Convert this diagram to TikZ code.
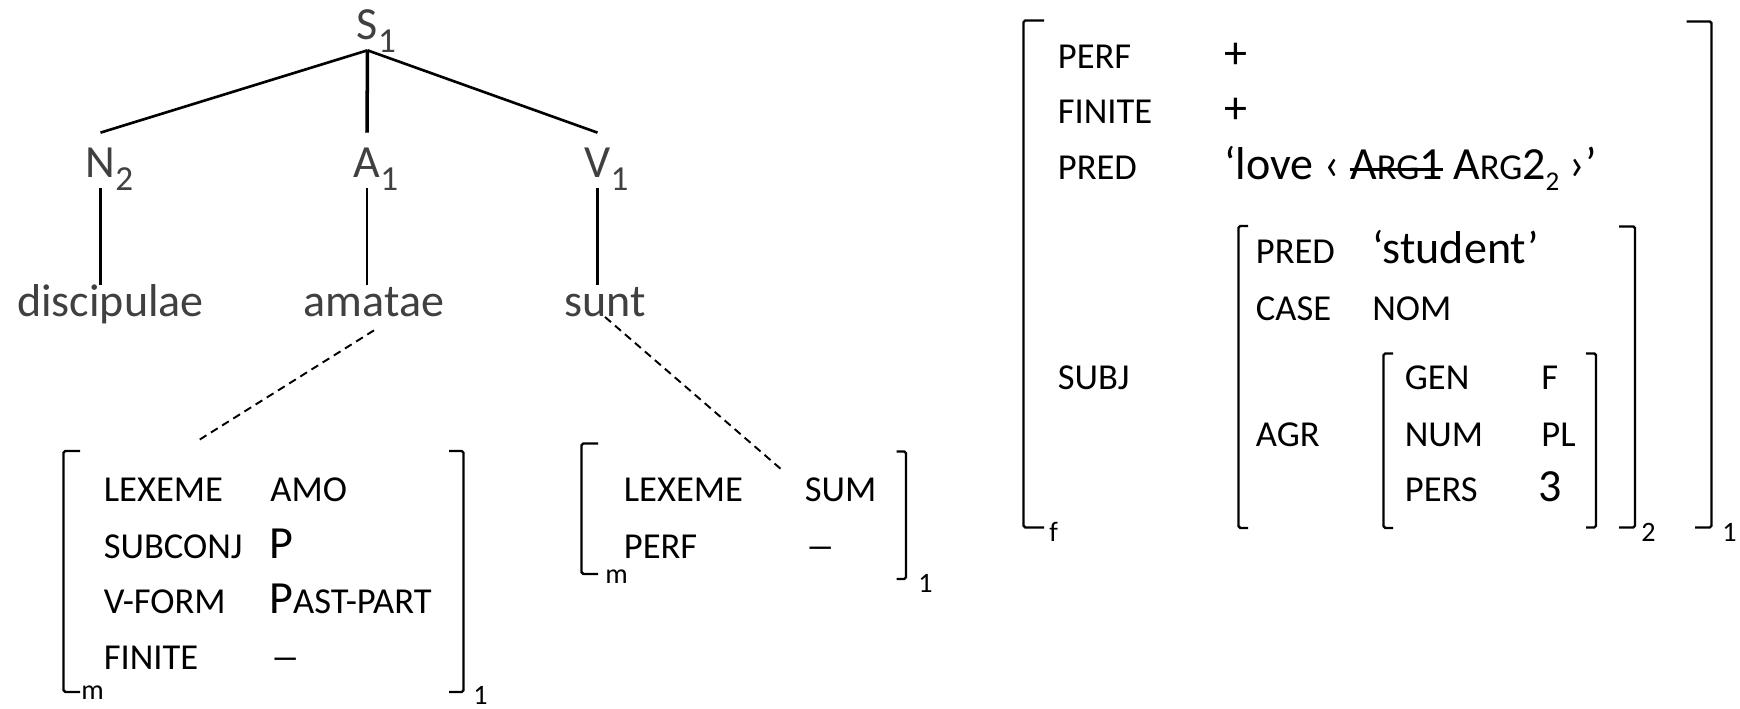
\documentclass[tikz,border=0pt]{standalone}
\usepackage{fontspec}
\setmainfont{Carlito}
\usepackage{tikz}
\usetikzlibrary{positioning}

\definecolor{treegrey}{HTML}{404040}

\newcommand{\bigtxt}{\fontsize{26.2}{30}\selectfont}
\newcommand{\smtxt}{\fontsize{20.8}{24}\selectfont}
\newcommand{\catidx}[1]{\raisebox{-7pt}{\fontsize{20}{20}\selectfont #1}}
\newcommand{\argidx}[1]{\raisebox{-6pt}{\fontsize{15.4}{16}\selectfont #1}}
\newcommand{\minus}{\scalebox{1.3}[0.8]{–}}
% struck-out argument
\newsavebox{\struckbox}
\newcommand{\struck}[1]{\sbox{\struckbox}{#1}%
  \rlap{\rule[5.2pt]{\wd\struckbox}{1.4pt}}\usebox{\struckbox}}

\tikzset{
  cat/.style={inner sep=0pt, text=treegrey, font=\bigtxt, text height=0.9cm, text depth=0.2cm, anchor=base},
  word/.style={inner sep=0pt, text=treegrey, font=\bigtxt, text height=0.64cm, text depth=0.26cm, anchor=base},
  feat/.style={inner sep=0pt, font=\smtxt, anchor=base west},
  val/.style={inner sep=0pt, font=\bigtxt, anchor=base west},
  tag/.style={inner sep=0pt, font=\fontsize{16}{18}\selectfont, anchor=base west},
  brk/.style={line width=1.4pt, rounded corners=1pt},
  branch/.style={line width=1.5pt},
  link/.style={line width=1.1pt, dash pattern=on 4.5pt off 3pt}
}

\begin{document}
\begin{tikzpicture}
  \useasboundingbox (0,0) rectangle (34.8,14.18);

  % c-structure
  \node[cat] (s1) at (7.35,13.38) {S\rlap{\catidx{1}}};
  \node[cat] (n2) at (2.01,10.62) {N\rlap{\catidx{2}}};
  \node[cat] (a1) at (7.34,10.62) {A\rlap{\catidx{1}}};
  \node[cat] (v1) at (11.95,10.62) {V\rlap{\catidx{1}}};

  \node[word] (discipulae) at (2.21,7.84) {discipulae};
  \node[word] (amatae) at (7.48,7.84) {amatae};
  \node[word] (sunt) at (12.10,7.84) {sunt};

  \draw[branch] (s1.south) -- (n2.north);
  \draw[branch, line width=2pt] (s1.south) -- (a1.north);
  \draw[branch] (s1.south) -- (v1.north);
  \draw[branch] (n2.south) -- (n2.south |- discipulae.north);
  \draw[branch] (a1.south) -- (a1.south |- amatae.north);
  \draw[branch] (v1.south) -- (v1.south |- sunt.north);

  \coordinate (amo-top) at (3.98,5.38);
  \coordinate (sum-top) at (15.64,4.78);
  \draw[link] (amatae.south) -- (amo-top);
  \draw[link] (sunt.base) -- (sum-top);

  % m-structure of amatae
  \draw[brk] (1.60,5.16) -- (1.27,5.16) -- (1.27,0.34) -- (1.60,0.34);
  \draw[brk] (8.98,5.16) -- (9.27,5.16) -- (9.27,0.34) -- (8.98,0.34);
  \node[feat] (amo-lex) at (2.07,4.146) {LEXEME};
  \node[feat] (amo-lex-v) at (5.40,4.146) {AMO};
  \node[feat] (amo-sub) at (2.07,3.014) {SUBCONJ};
  \node[val] (amo-sub-v) at (5.38,3.014) {P};
  \node[feat] (amo-vf) at (2.07,1.914) {V-FORM};
  \node[feat] (amo-vf-v) at (5.38,1.914) {{\bigtxt P}AST-PART};
  \node[feat] (amo-fin) at (2.07,0.78) {FINITE};
  \node[val] (amo-fin-v) at (5.40,0.78) {\minus};
  \node[tag] (amo-m) at (1.62,0.18) {m};
  \node[tag] (amo-1) at (9.46,0.08) {1};

  % m-structure of sunt
  \draw[brk] (11.96,5.31) -- (11.63,5.31) -- (11.63,2.70) -- (11.96,2.70);
  \draw[brk] (17.93,5.15) -- (18.12,5.15) -- (18.12,2.60) -- (17.93,2.60);
  \node[feat] (sum-lex) at (12.47,4.146) {LEXEME};
  \node[feat] (sum-lex-v) at (16.09,4.146) {SUM};
  \node[feat] (sum-perf) at (12.47,3.014) {PERF};
  \node[val] (sum-perf-v) at (16.10,3.014) {\minus};
  \node[tag] (sum-m) at (12.10,2.50) {m};
  \node[tag] (sum-1) at (18.36,2.32) {1};

  % f-structure
  \draw[brk] (20.88,13.77) -- (20.47,13.77) -- (20.47,3.63) -- (20.88,3.63);
  \draw[brk] (33.73,13.75) -- (34.23,13.75) -- (34.23,3.63) -- (33.90,3.63);
  \node[feat] (f-perf) at (21.15,12.81) {PERF};
  \node[val] (f-perf-v) at (24.48,12.81) {+};
  \node[feat] (f-fin) at (21.15,11.70) {FINITE};
  \node[val] (f-fin-v) at (24.48,11.70) {+};
  \node[feat] (f-pred) at (21.15,10.58) {PRED};
  \node[val] (f-pred-v) at (24.48,10.58)
    {‘love ‹ \struck{A{\smtxt RG}1} A{\smtxt RG}2\argidx{2} ›’};
  \node[feat] (f-subj) at (21.15,6.38) {SUBJ};
  \node[tag] (f-f) at (20.98,3.35) {f};
  \node[tag] (f-1) at (34.44,3.35) {1};

  % SUBJ value
  \draw[brk] (24.96,9.66) -- (24.77,9.66) -- (24.77,3.62) -- (24.96,3.62);
  \draw[brk] (32.38,9.65) -- (32.70,9.65) -- (32.70,3.63) -- (32.38,3.63);
  \node[feat] (subj-pred) at (25.11,8.91) {PRED};
  \node[val] (subj-pred-v) at (27.44,8.91) {‘student’};
  \node[feat] (subj-case) at (25.11,7.77) {CASE};
  \node[feat] (subj-case-v) at (27.44,7.77) {NOM};
  \node[feat] (subj-agr) at (25.11,5.25) {AGR};
  \node[tag] (subj-2) at (32.82,3.35) {2};

  % AGR value
  \draw[brk] (27.86,7.11) -- (27.67,7.11) -- (27.67,3.62) -- (27.86,3.62);
  \draw[brk] (31.72,7.11) -- (31.92,7.11) -- (31.92,3.63) -- (31.72,3.63);
  \node[feat] (agr-gen) at (28.09,6.38) {GEN};
  \node[feat] (agr-gen-v) at (30.82,6.38) {F};
  \node[feat] (agr-num) at (28.09,5.25) {NUM};
  \node[feat] (agr-num-v) at (30.82,5.25) {PL};
  \node[feat] (agr-pers) at (28.09,4.15) {PERS};
  \node[val] (agr-pers-v) at (30.76,4.15) {3};
\end{tikzpicture}
\end{document}
